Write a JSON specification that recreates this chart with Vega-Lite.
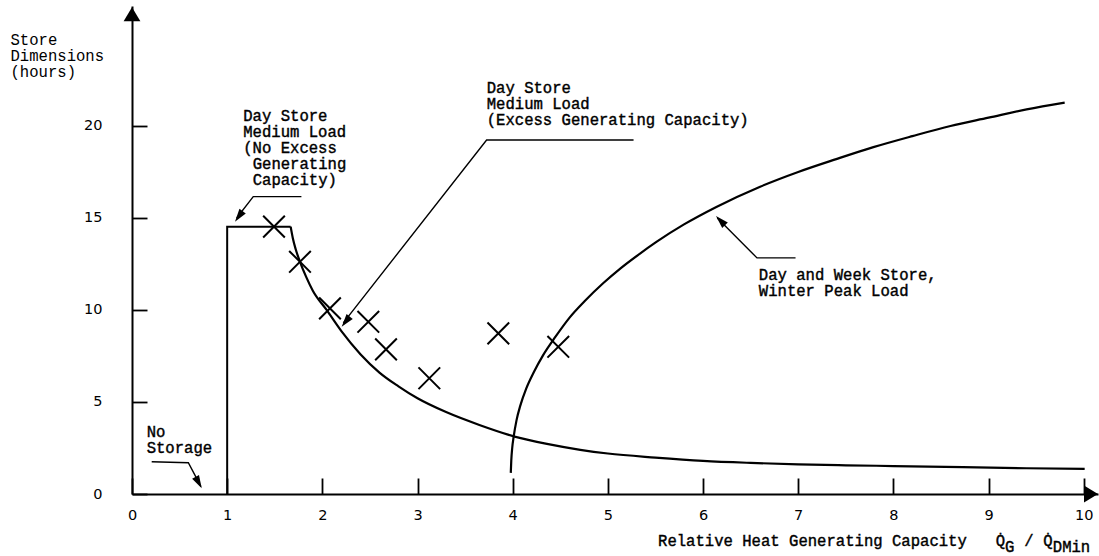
{
  "$schema": "https://vega.github.io/schema/vega-lite/v6.json",
  "width": 966,
  "height": 488,
  "autosize": {"type": "none"},
  "padding": {"left": 132, "top": 6, "right": 1, "bottom": 62},
  "background": "white",
  "config": {"view": {"stroke": null}},
  "datasets": {
    "step": [
      {"i": 0, "x": 1, "y": 0},
      {"i": 1, "x": 1, "y": 14.53},
      {"i": 2, "x": 1.667, "y": 14.53}
    ],
    "curves": [
      {"series": "A", "i": 0, "x": 1.667, "y": 14.53},
      {"series": "A", "i": 1, "x": 1.69, "y": 13.9},
      {"series": "A", "i": 2, "x": 1.72, "y": 13.3},
      {"series": "A", "i": 3, "x": 1.765, "y": 12.62},
      {"series": "A", "i": 4, "x": 1.83, "y": 11.8},
      {"series": "A", "i": 5, "x": 1.9, "y": 11.05},
      {"series": "A", "i": 6, "x": 2.045, "y": 10.0},
      {"series": "A", "i": 7, "x": 2.2, "y": 8.85},
      {"series": "A", "i": 8, "x": 2.4, "y": 7.6},
      {"series": "A", "i": 9, "x": 2.6, "y": 6.6},
      {"series": "A", "i": 10, "x": 2.8, "y": 5.85},
      {"series": "A", "i": 11, "x": 3.0, "y": 5.2},
      {"series": "A", "i": 12, "x": 3.3, "y": 4.45},
      {"series": "A", "i": 13, "x": 3.65, "y": 3.75},
      {"series": "A", "i": 14, "x": 4.02, "y": 3.12},
      {"series": "A", "i": 15, "x": 4.36, "y": 2.72},
      {"series": "A", "i": 16, "x": 4.71, "y": 2.4},
      {"series": "A", "i": 17, "x": 5.0, "y": 2.2},
      {"series": "A", "i": 18, "x": 5.5, "y": 1.98},
      {"series": "A", "i": 19, "x": 6.0, "y": 1.8},
      {"series": "A", "i": 20, "x": 6.5, "y": 1.69},
      {"series": "A", "i": 21, "x": 7.0, "y": 1.61},
      {"series": "A", "i": 22, "x": 7.5, "y": 1.56},
      {"series": "A", "i": 23, "x": 8.0, "y": 1.52},
      {"series": "A", "i": 24, "x": 8.73, "y": 1.46},
      {"series": "A", "i": 25, "x": 9.4, "y": 1.4},
      {"series": "A", "i": 26, "x": 10.01, "y": 1.36},
      {"series": "B", "i": 0, "x": 3.98, "y": 1.15},
      {"series": "B", "i": 1, "x": 3.985, "y": 1.8},
      {"series": "B", "i": 2, "x": 3.995, "y": 2.5},
      {"series": "B", "i": 3, "x": 4.01, "y": 3.1},
      {"series": "B", "i": 4, "x": 4.04, "y": 4.0},
      {"series": "B", "i": 5, "x": 4.08, "y": 4.8},
      {"series": "B", "i": 6, "x": 4.14, "y": 5.7},
      {"series": "B", "i": 7, "x": 4.22, "y": 6.6},
      {"series": "B", "i": 8, "x": 4.32, "y": 7.55},
      {"series": "B", "i": 9, "x": 4.45, "y": 8.55},
      {"series": "B", "i": 10, "x": 4.6, "y": 9.6},
      {"series": "B", "i": 11, "x": 4.76, "y": 10.5},
      {"series": "B", "i": 12, "x": 4.95, "y": 11.45},
      {"series": "B", "i": 13, "x": 5.13, "y": 12.25},
      {"series": "B", "i": 14, "x": 5.32, "y": 13.0},
      {"series": "B", "i": 15, "x": 5.51, "y": 13.7},
      {"series": "B", "i": 16, "x": 5.8, "y": 14.65},
      {"series": "B", "i": 17, "x": 6.14, "y": 15.6},
      {"series": "B", "i": 18, "x": 6.6, "y": 16.7},
      {"series": "B", "i": 19, "x": 7.0, "y": 17.5},
      {"series": "B", "i": 20, "x": 7.4, "y": 18.2},
      {"series": "B", "i": 21, "x": 7.79, "y": 18.85},
      {"series": "B", "i": 22, "x": 8.2, "y": 19.45},
      {"series": "B", "i": 23, "x": 8.6, "y": 20.0},
      {"series": "B", "i": 24, "x": 9.0, "y": 20.45},
      {"series": "B", "i": 25, "x": 9.4, "y": 20.9},
      {"series": "B", "i": 26, "x": 9.8, "y": 21.27}
    ],
    "leaders": [
      {"series": "L1", "i": 0, "x": 1.78, "y": 16.16},
      {"series": "L1", "i": 1, "x": 1.274, "y": 16.16},
      {"series": "L1", "i": 2, "x": 1.1, "y": 15.0},
      {"series": "L2", "i": 0, "x": 5.27, "y": 19.24},
      {"series": "L2", "i": 1, "x": 3.726, "y": 19.24},
      {"series": "L2", "i": 2, "x": 2.22, "y": 9.3},
      {"series": "L3", "i": 0, "x": 6.972, "y": 12.83},
      {"series": "L3", "i": 1, "x": 6.567, "y": 12.83},
      {"series": "L3", "i": 2, "x": 6.15, "y": 15.0},
      {"series": "L4", "i": 0, "x": 0.207, "y": 1.755},
      {"series": "L4", "i": 1, "x": 0.592, "y": 1.70},
      {"series": "L4", "i": 2, "x": 0.725, "y": 0.4}
    ],
    "tips": [
      {"name": "L1", "x": 1.082, "y": 14.8},
      {"name": "L2", "x": 2.203, "y": 9.09},
      {"name": "L3", "x": 6.136, "y": 15.11},
      {"name": "L4", "x": 0.732, "y": 0.31},
      {"name": "yaxis", "x": 0, "y": 26.45},
      {"name": "xaxis", "x": 10.15, "y": 0}
    ],
    "crosses": [
      {"x": 1.492, "y": 14.53},
      {"x": 1.765, "y": 12.62},
      {"x": 2.08, "y": 10.09},
      {"x": 2.483, "y": 9.36},
      {"x": 2.669, "y": 7.86},
      {"x": 3.124, "y": 6.29},
      {"x": 3.849, "y": 8.73},
      {"x": 4.479, "y": 8.0}
    ],
    "notes": [
      {"label": "Day Store", "x": 1.169, "y": 20.52},
      {"label": "Medium Load", "x": 1.169, "y": 19.65},
      {"label": "(No Excess", "x": 1.169, "y": 18.78},
      {"label": "Generating", "x": 1.268, "y": 17.91},
      {"label": "Capacity)", "x": 1.268, "y": 17.04},
      {"label": "Day Store", "x": 3.727, "y": 22.09},
      {"label": "Medium Load", "x": 3.727, "y": 21.22},
      {"label": "(Excess Generating Capacity)", "x": 3.727, "y": 20.35},
      {"label": "Day and Week Store,", "x": 6.586, "y": 11.9},
      {"label": "Winter Peak Load", "x": 6.586, "y": 11.03},
      {"label": "No", "x": 0.154, "y": 3.39},
      {"label": "Storage", "x": 0.154, "y": 2.52},
      {"label": "Relative Heat Generating Capacity", "x": 5.527, "y": -2.55},
      {"label": "Q\u0307", "x": 9.075, "y": -2.55},
      {"label": "/", "x": 9.376, "y": -2.55},
      {"label": "Q\u0307", "x": 9.576, "y": -2.55}
    ],
    "subs": [
      {"label": "G", "x": 9.174, "y": -2.86},
      {"label": "DMin", "x": 9.675, "y": -2.86}
    ]
  },
  "encoding": {
    "x": {
      "field": "x",
      "type": "quantitative",
      "scale": {"domain": [0, 10.15], "nice": false, "zero": false},
      "axis": {
        "values": [0, 1, 2, 3, 4, 5, 6, 7, 8, 9, 10],
        "format": "d",
        "title": null,
        "grid": false,
        "domainColor": "black",
        "domainWidth": 2,
        "tickColor": "black",
        "tickWidth": 1.8,
        "tickSize": -16,
        "labelPadding": 30,
        "labelFont": "DejaVu Sans",
        "labelFontSize": 14.5,
        "labelColor": "black",
        "labelFlush": false,
        "labelOverlap": false
      }
    },
    "y": {
      "field": "y",
      "type": "quantitative",
      "scale": {"domain": [0, 26.52], "nice": false, "zero": false},
      "axis": {
        "values": [0, 5, 10, 15, 20],
        "format": "d",
        "title": ["Store", "Dimensions", "(hours)"],
        "titleAngle": 0,
        "titleAlign": "left",
        "titleBaseline": "middle",
        "titleX": -122,
        "titleY": 33,
        "titleLineHeight": 16,
        "titleFont": "Liberation Mono",
        "titleFontSize": 15.6,
        "titleFontWeight": "normal",
        "titleColor": "black",
        "grid": false,
        "domainColor": "black",
        "domainWidth": 2,
        "tickColor": "black",
        "tickWidth": 1.8,
        "tickSize": -15,
        "labelPadding": 45,
        "labelFont": "DejaVu Sans",
        "labelFontSize": 14.5,
        "labelColor": "black",
        "labelFlush": false,
        "labelOverlap": false
      }
    }
  },
  "layer": [
    {
      "data": {"name": "step"},
      "mark": {"type": "line", "color": "black", "strokeWidth": 2},
      "encoding": {"order": {"field": "i", "type": "quantitative"}}
    },
    {
      "data": {"name": "curves"},
      "mark": {"type": "line", "color": "black", "strokeWidth": 2.2, "interpolate": "monotone"},
      "encoding": {
        "detail": {"field": "series", "type": "nominal"},
        "order": {"field": "i", "type": "quantitative"}
      }
    },
    {
      "data": {"name": "leaders"},
      "mark": {"type": "line", "color": "black", "strokeWidth": 1.4},
      "encoding": {
        "detail": {"field": "series", "type": "nominal"},
        "order": {"field": "i", "type": "quantitative"}
      }
    },
    {
      "data": {"name": "tips"},
      "transform": [{"filter": "datum.name === 'L1'"}],
      "mark": {"type": "point", "shape": "M0,0L0.3,1L-0.3,1Z", "size": 676, "filled": true, "color": "black", "opacity": 1, "strokeWidth": 0, "angle": 216}
    },
    {
      "data": {"name": "tips"},
      "transform": [{"filter": "datum.name === 'L2'"}],
      "mark": {"type": "point", "shape": "M0,0L0.3,1L-0.3,1Z", "size": 676, "filled": true, "color": "black", "opacity": 1, "strokeWidth": 0, "angle": 218}
    },
    {
      "data": {"name": "tips"},
      "transform": [{"filter": "datum.name === 'L3'"}],
      "mark": {"type": "point", "shape": "M0,0L0.3,1L-0.3,1Z", "size": 676, "filled": true, "color": "black", "opacity": 1, "strokeWidth": 0, "angle": 316}
    },
    {
      "data": {"name": "tips"},
      "transform": [{"filter": "datum.name === 'L4'"}],
      "mark": {"type": "point", "shape": "M0,0L0.3,1L-0.3,1Z", "size": 676, "filled": true, "color": "black", "opacity": 1, "strokeWidth": 0, "angle": 152}
    },
    {
      "data": {"name": "tips"},
      "transform": [{"filter": "datum.name === 'yaxis'"}],
      "mark": {"type": "point", "shape": "M0,0L0.6,1L-0.6,1Z", "size": 784, "filled": true, "color": "black", "opacity": 1, "strokeWidth": 0, "angle": 0}
    },
    {
      "data": {"name": "tips"},
      "transform": [{"filter": "datum.name === 'xaxis'"}],
      "mark": {"type": "point", "shape": "M0,0L0.6,1L-0.6,1Z", "size": 784, "filled": true, "color": "black", "opacity": 1, "strokeWidth": 0, "angle": 90}
    },
    {
      "data": {"name": "crosses"},
      "mark": {"type": "point", "shape": "M-1,-1L1,1M-1,1L1,-1", "size": 470, "filled": false, "color": "black", "opacity": 1, "strokeWidth": 2}
    },
    {
      "data": {"name": "notes"},
      "mark": {"type": "text", "align": "left", "baseline": "middle", "font": "Liberation Mono", "fontSize": 15.6, "fontWeight": "normal", "color": "black", "stroke": "black", "strokeWidth": 0.4},
      "encoding": {"text": {"field": "label", "type": "nominal"}}
    },
    {
      "data": {"name": "subs"},
      "mark": {"type": "text", "align": "left", "baseline": "middle", "font": "Liberation Mono", "fontSize": 15.6, "fontWeight": "normal", "color": "black", "stroke": "black", "strokeWidth": 0.4},
      "encoding": {"text": {"field": "label", "type": "nominal"}}
    }
  ]
}
